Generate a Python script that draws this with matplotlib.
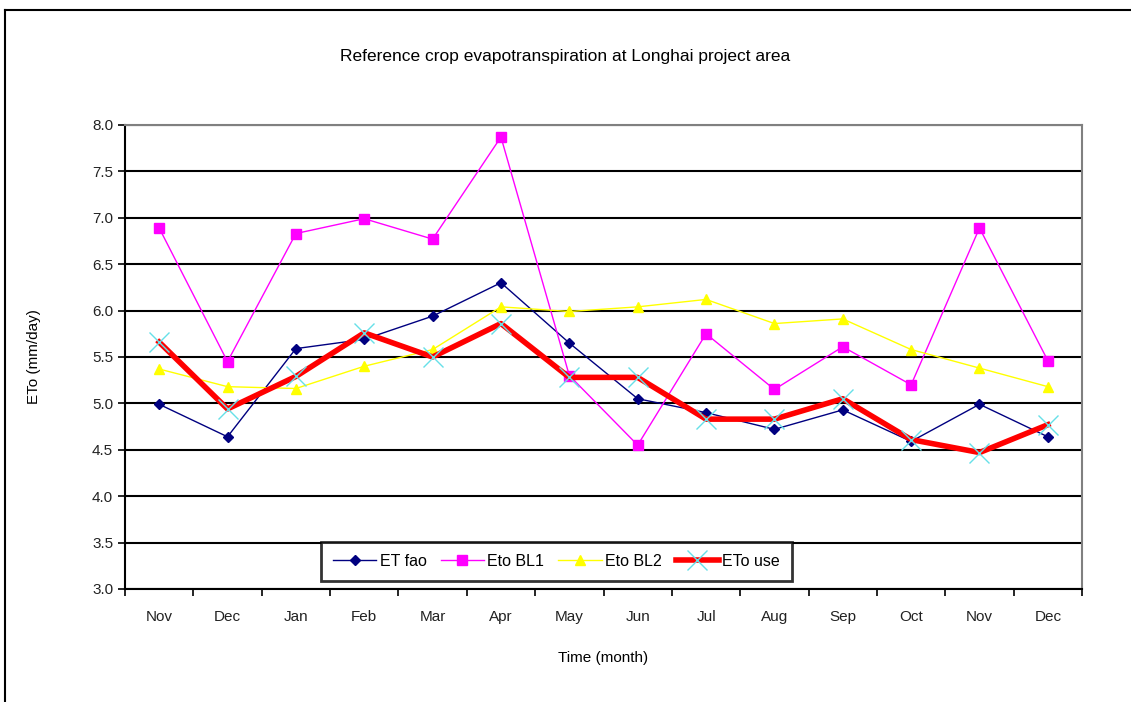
import matplotlib.pyplot as plt
from matplotlib.lines import Line2D

plt.rcParams['font.family'] = ['Liberation Sans', 'DejaVu Sans']

months = ['Nov', 'Dec', 'Jan', 'Feb', 'Mar', 'Apr', 'May', 'Jun',
          'Jul', 'Aug', 'Sep', 'Oct', 'Nov', 'Dec']
et_fao = [4.99, 4.64, 5.59, 5.69, 5.94, 6.30, 5.65, 5.05,
          4.90, 4.72, 4.93, 4.59, 4.99, 4.64]
eto_bl1 = [6.89, 5.45, 6.83, 6.99, 6.77, 7.87, 5.30, 4.55,
           5.75, 5.15, 5.61, 5.20, 6.89, 5.46]
eto_bl2 = [5.37, 5.18, 5.16, 5.40, 5.58, 6.04, 5.99, 6.04,
           6.12, 5.86, 5.91, 5.58, 5.38, 5.18]
eto_use = [5.66, 4.94, 5.29, 5.76, 5.50, 5.86, 5.28, 5.28,
           4.83, 4.83, 5.05, 4.61, 4.47, 4.77]
y_ticks = [3.0, 3.5, 4.0, 4.5, 5.0, 5.5, 6.0, 6.5, 7.0, 7.5, 8.0]

fig = plt.figure(figsize=(11.31, 7.02), dpi=100)
ax = fig.add_axes([0.1105, 0.161, 0.8462, 0.661])

x = list(range(len(months)))
ax.plot(x, et_fao, color='#000080', lw=1, marker='D', ms=5.5, label='ET fao')
ax.plot(x, eto_bl1, color='#FF00FF', lw=1, marker='s', ms=7.5, label='Eto BL1')
ax.plot(x, eto_bl2, color='#FFFF00', lw=1, marker='^', ms=7.5, label='Eto BL2')
ax.plot(x, eto_use, color='#FF0000', lw=4, marker='x', ms=14, mec='#66E0E8',
        mew=1, label='ETo use')

ax.set_xlim(-0.5, len(months) - 0.5)
ax.set_ylim(3.0, 8.0)
ax.set_yticks(y_ticks)
ax.set_yticklabels([f'{v:.1f}' for v in y_ticks])
ax.set_xticks(x)
ax.set_xticklabels(months)
ax.set_xticks([i - 0.5 for i in range(len(months) + 1)], minor=True)
ax.tick_params(axis='x', which='major', length=0, pad=15, labelsize=11)
ax.tick_params(axis='x', which='minor', length=5, width=1.2, direction='out')
ax.tick_params(axis='y', length=5, width=1.2, direction='out', labelsize=11)
ax.tick_params(axis='both', which='both', colors='black', labelcolor='#222222')
ax.yaxis.grid(True, color='black', lw=1.5)
ax.set_axisbelow(True)
for side in ['top', 'right']:
    ax.spines[side].set_color('#808080')
    ax.spines[side].set_linewidth(1.5)
for side in ['left', 'bottom']:
    ax.spines[side].set_color('black')
    ax.spines[side].set_linewidth(1.5)

ax.set_ylabel('ETo (mm/day)', fontsize=11)
ax.yaxis.set_label_coords(-0.088, 0.5)
ax.set_xlabel('Time (month)', fontsize=11)
ax.xaxis.set_label_coords(0.5, -0.134)
fig.text(0.5, 0.92, 'Reference crop evapotranspiration at Longhai project area',
         ha='center', va='center', fontsize=12.5)

leg = ax.legend(loc='lower center', bbox_to_anchor=(0.451, 0.0), ncol=4,
                frameon=True, fancybox=False, fontsize=11.5, handlelength=2.7,
                columnspacing=0.9, handletextpad=0.2, borderpad=0.75)
leg.get_frame().set_edgecolor('black')
leg.get_frame().set_linewidth(2)

# outer chart border
fig.add_artist(Line2D([5 / 1131, 5 / 1131], [0, 1 - 10 / 702], color='black', lw=1.5))
fig.add_artist(Line2D([5 / 1131, 1], [1 - 10 / 702, 1 - 10 / 702], color='black', lw=1.5))

fig.savefig('out.png', dpi=100)
